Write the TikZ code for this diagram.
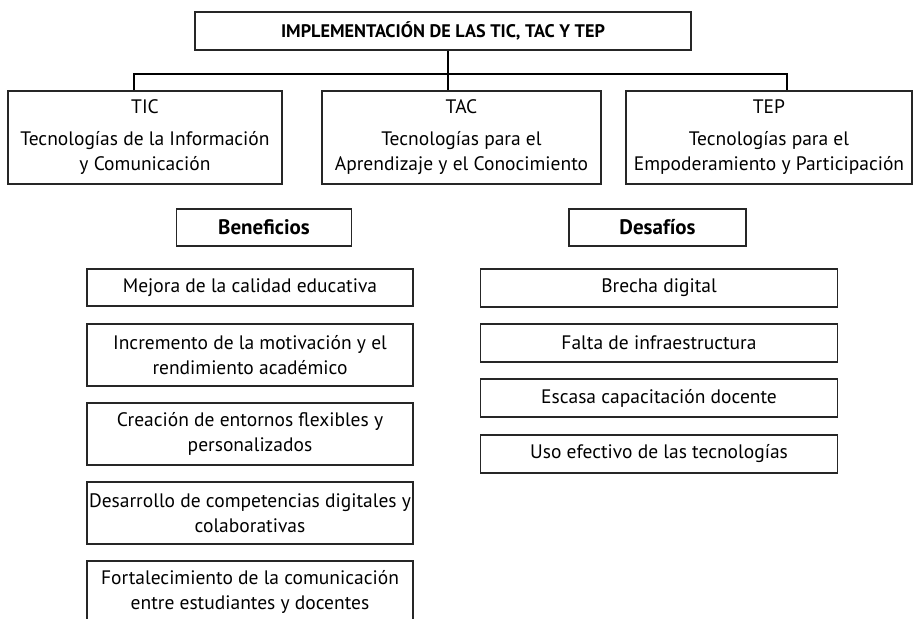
\documentclass[tikz,border=0pt]{standalone}
\usepackage{fontspec}
\setmainfont{PT Sans}
\begin{document}
\begin{tikzpicture}[x=1pt,y=-1pt,
  box/.style={draw=black!85, line width=1.1pt, inner sep=0pt, align=center, font=\fontsize{19.5}{25}\selectfont},
  head/.style={box, font=\bfseries\fontsize{21}{25}\selectfont},
  conn/.style={draw=black, line width=1.1pt}]
\useasboundingbox (0,0) rectangle (917,618);
\node[box, minimum width=496, minimum height=38, font=\bfseries\fontsize{18.2}{22}\selectfont] (title) at (443,31) {IMPLEMENTACIÓN DE LAS TIC, TAC Y TEP};
\node[box, minimum width=274, minimum height=93] (tic) at (145,137.5) {TIC\\[7pt]Tecnologías de la Información\\y Comunicación};
\node[box, minimum width=279, minimum height=93] (tac) at (461.5,137.5) {TAC\\[7pt]Tecnologías para el\\Aprendizaje y el Conocimiento};
\node[box, minimum width=286, minimum height=93] (tep) at (769,137.5) {TEP\\[7pt]Tecnologías para el\\Empoderamiento y Participación};
\coordinate (h1) at (134,74);
\coordinate (h2) at (448,74);
\coordinate (h3) at (787,74);
\draw[conn] (tic.north -| h1) -- (h1) -- (h3) -- (tep.north -| h3);
\draw[conn] (title.south -| h2) -- (tac.north -| h2);
\node[head, minimum width=175, minimum height=37] (ben) at (264,227.5) {Beneficios};
\node[head, minimum width=177, minimum height=37] (des) at (657.5,227.5) {Desafíos};
\node[box, minimum width=326, minimum height=37] (b1) at (250,287.5) {Mejora de la calidad educativa};
\node[box, minimum width=326, minimum height=62] (b2) at (250,355) {Incremento de la motivación y el\\rendimiento académico};
\node[box, minimum width=326, minimum height=62] (b3) at (250,434) {Creación de entornos flexibles y\\personalizados};
\node[box, minimum width=326, minimum height=62] (b4) at (250,513) {Desarrollo de competencias digitales y\\colaborativas};
\node[box, minimum width=326, minimum height=62] (b5) at (250,592) {Fortalecimiento de la comunicación\\entre estudiantes y docentes};
\node[box, minimum width=357, minimum height=38] (d1) at (659,288) {Brecha digital};
\node[box, minimum width=357, minimum height=38] (d2) at (659,343) {Falta de infraestructura};
\node[box, minimum width=357, minimum height=38] (d3) at (659,398) {Escasa capacitación docente};
\node[box, minimum width=357, minimum height=38] (d4) at (659,454) {Uso efectivo de las tecnologías};
\end{tikzpicture}
\end{document}
